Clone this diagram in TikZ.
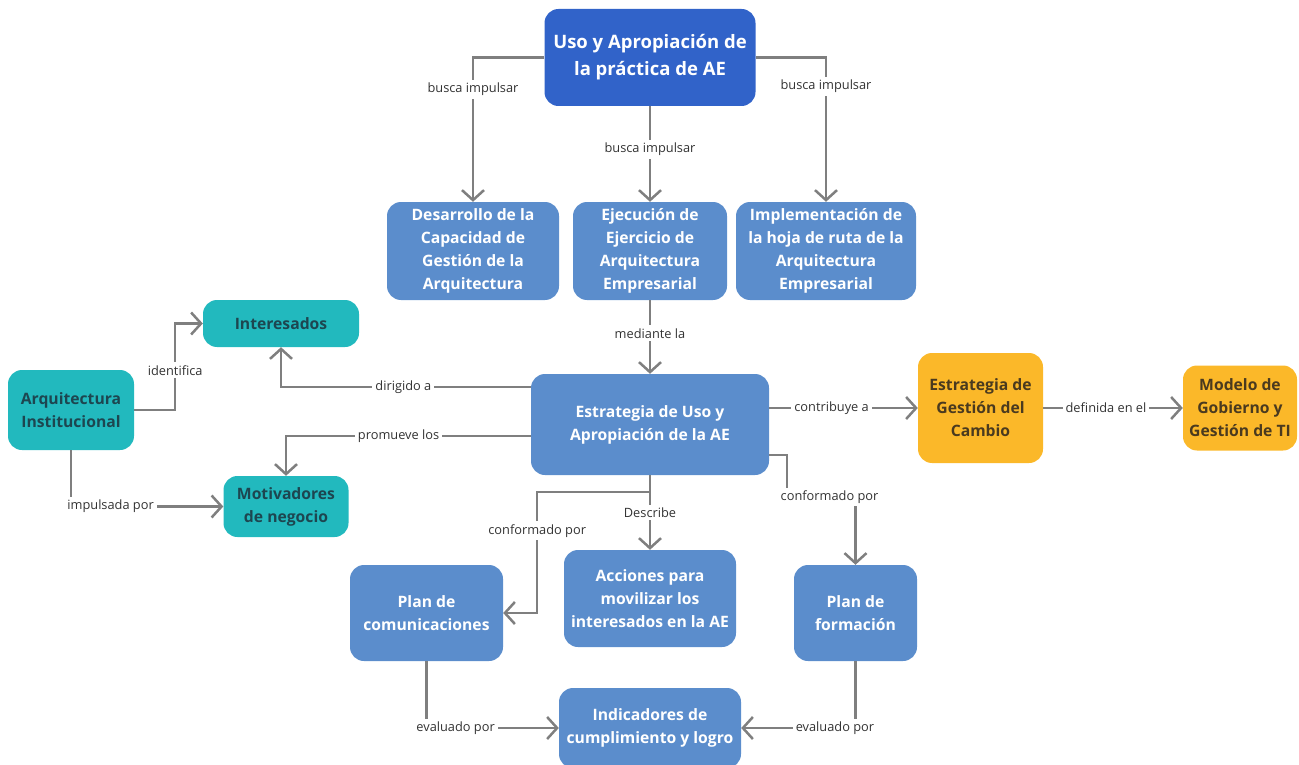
\documentclass[tikz,border=0pt]{standalone}
\usepackage{fontspec}
\setmainfont{Open Sans}
\usetikzlibrary{arrows.meta}

\definecolor{topblue}{HTML}{3163C9}
\definecolor{boxblue}{HTML}{5B8DCC}
\definecolor{tealbox}{HTML}{22B9BE}
\definecolor{orangebox}{HTML}{FBB829}
\definecolor{linegray}{HTML}{7F7F7F}
\definecolor{tealtext}{HTML}{1D4650}
\definecolor{orangetext}{HTML}{4A3A1F}

\tikzset{
  box/.style={rounded corners=14pt, align=center, inner sep=0pt,
    font=\fontsize{15.7}{23}\selectfont\bfseries},
  topbox/.style={box, fill=topblue, text=white,
    font=\fontsize{18.5}{27}\selectfont\bfseries},
  bluebox/.style={box, fill=boxblue, text=white},
  tealnode/.style={box, fill=tealbox, text=tealtext},
  orangenode/.style={box, fill=orangebox, text=orangetext},
  link/.style={draw=linegray, line width=2.5pt,
    -{Straight Barb[length=10pt,width=22pt]}},
  lab/.style={fill=white, inner sep=3pt, text=black!80,
    font=\fontsize{12.8}{15}\selectfont},
}

\begin{document}
\begin{tikzpicture}[x=1pt,y=-1pt]
    \useasboundingbox (0,0) rectangle (1299,765);

    \node[topbox, minimum width=211pt, minimum height=97pt] (uso) at (650,57.5) {Uso y Apropiación de\\la práctica de AE};

    \node[bluebox, minimum width=172pt, minimum height=98pt] (desa) at (473,251) {Desarrollo de la\\Capacidad de\\Gestión de la\\Arquitectura};
    \node[bluebox, minimum width=154pt, minimum height=98pt] (ejec) at (650,251) {Ejecución de\\Ejercicio de\\Arquitectura\\Empresarial};
    \node[bluebox, minimum width=180pt, minimum height=98pt] (impl) at (826,251) {Implementación de\\la hoja de ruta de la\\Arquitectura\\Empresarial};

    \node[bluebox, minimum width=238pt, minimum height=101pt] (estr) at (650,424.5) {Estrategia de Uso y\\Apropiación de la AE};

    \node[tealnode, minimum width=156pt, minimum height=47pt] (inter) at (281,323.5) {Interesados};
    \node[tealnode, minimum width=126pt, minimum height=80pt] (arq) at (71,410) {Arquitectura\\Institucional};
    \node[tealnode, minimum width=125pt, minimum height=61pt] (motiv) at (286,506.5) {Motivadores\\de negocio};

    \node[orangenode, minimum width=125pt, minimum height=110pt] (cambio) at (980.5,408) {Estrategia de\\Gestión del\\Cambio};
    \node[orangenode, minimum width=114pt, minimum height=85pt] (modelo) at (1240,408) {Modelo de\\Gobierno y\\Gestión de TI};

    \node[bluebox, minimum width=172pt, minimum height=97pt] (acc) at (650,598.5) {Acciones para\\movilizar los\\interesados en la AE};
    \node[bluebox, minimum width=153pt, minimum height=96pt] (comu) at (426.5,613) {Plan de\\comunicaciones};
    \node[bluebox, minimum width=123pt, minimum height=96pt] (form) at (855.5,613) {Plan de\\formación};
    \node[bluebox, minimum width=182pt, minimum height=80pt] (ind) at (650,728) {Indicadores de\\cumplimiento y logro};

    \draw[link] (uso.west) -| node[lab,pos=0.61]{busca impulsar} (desa.north);
    \draw[link] (uso.south) -- node[lab,pos=0.45]{busca impulsar} (ejec.north);
    \draw[link] (uso.east) -| node[lab,pos=0.6]{busca impulsar} (impl.north);
    \draw[link] (ejec.south) -- node[lab,pos=0.45]{mediante la} (estr.north);

    \draw[link] (arq.east) -- ++(41,0) |- node[lab,pos=0.23]{identifica} (inter.west);
    \draw[link] ([yshift=37.5pt]estr.west) -| node[lab,pos=0.255]{dirigido a} (inter.south);
    \draw[link] ([yshift=-11.5pt]estr.west) -| node[lab,pos=0.27]{promueve los} (motiv.north);
    \draw[link] (arq.south) |- node[lab,pos=0.63]{impulsada por} (motiv.west);

    \draw[link] ([yshift=16.5pt]estr.east) -- node[lab,pos=0.42]{contribuye a} (cambio.west);
    \draw[link] (cambio.east) -- node[lab,pos=0.45]{definida en el} (modelo.west);

    \draw[link] (estr.south) -- node[lab]{Describe} (acc.north);
    \draw[link] (estr.south) -- ++(0,17) -| node[lab,pos=0.66]{conformado por} ([xshift=34pt]comu.east) -- (comu.east);
    \draw[link] ([yshift=-30.5pt]estr.east) -- ++(18,0) -- ++(0,42) -| node[lab,pos=0.31]{conformado por} (form.north);

    \draw[link] (comu.south) |- node[lab,pos=0.61]{evaluado por} (ind.west);
    \draw[link] (form.south) |- node[lab,pos=0.59]{evaluado por} (ind.east);

\end{tikzpicture}
\end{document}
